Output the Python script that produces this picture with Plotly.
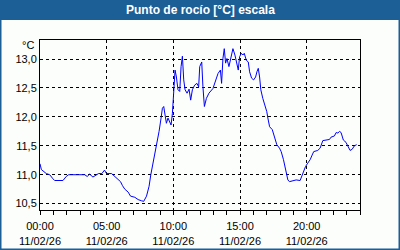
import plotly.graph_objects as go

hours = [0.00, 0.10, 0.47, 0.73, 0.97, 1.10, 1.72, 1.97, 2.15, 3.35, 3.54, 3.72, 3.97, 4.21, 4.39,
         4.64, 4.84, 4.96, 5.01, 5.37, 5.61, 5.86, 6.04, 6.19, 6.36, 6.61, 6.79, 7.11, 7.36, 7.61,
         7.78, 7.99, 8.18, 8.31, 8.48, 8.73, 8.93, 9.08, 9.18, 9.28, 9.38, 9.48, 9.60, 9.73, 9.83,
         9.93, 10.03, 10.13, 10.23, 10.35, 10.48, 10.58, 10.68, 10.78, 10.88, 11.03, 11.18, 11.30,
         11.43, 11.60, 11.77, 11.90, 11.98, 12.13, 12.22, 12.33, 12.48, 12.67, 12.97, 13.17, 13.35,
         13.53, 13.62, 13.72, 13.82, 13.92, 14.02, 14.17, 14.32, 14.47, 14.62, 14.77, 14.87, 14.97,
         15.10, 15.22, 15.32, 15.47, 15.62, 15.72, 15.87, 16.02, 16.17, 16.27, 16.37, 16.47, 16.56,
         16.71, 16.86, 17.01, 17.09, 17.22, 17.42, 17.59, 17.76, 17.96, 18.09, 18.26, 18.41, 18.59,
         18.71, 18.96, 19.21, 19.51, 19.71, 19.91, 20.08, 20.26, 20.41, 20.53, 20.83, 21.01, 21.21,
         21.41, 21.71, 21.83, 22.08, 22.21, 22.34, 22.46, 22.58, 22.75, 22.95, 23.08, 23.26, 23.41,
         23.58, 23.75]
dew_point = [11.19, 11.09, 11.02, 11.00, 10.93, 10.90, 10.90, 10.97, 11.00, 11.00, 10.97, 11.01, 10.96,
             11.00, 11.02, 11.02, 11.08, 11.03, 11.02, 11.02, 10.97, 10.93, 10.88, 10.81, 10.75, 10.70,
             10.63, 10.61, 10.57, 10.55, 10.54, 10.63, 10.80, 11.00, 11.20, 11.49, 11.75, 11.98, 12.15,
             12.18, 11.98, 11.89, 11.98, 11.92, 11.86, 12.06, 12.47, 12.81, 12.69, 12.47, 12.44, 12.87,
             13.05, 12.64, 12.47, 12.41, 12.48, 12.29, 12.47, 12.55, 12.58, 12.52, 12.87, 12.95, 12.52,
             12.18, 12.32, 12.41, 12.49, 12.64, 12.75, 12.81, 12.58, 13.01, 13.18, 12.93, 13.01, 12.87,
             13.04, 13.18, 13.07, 12.93, 12.81, 13.04, 13.10, 13.07, 13.10, 12.98, 12.95, 12.78, 12.67,
             12.64, 12.69, 12.78, 12.84, 12.69, 12.47, 12.32, 12.21, 12.09, 11.98, 11.83, 11.78, 11.66,
             11.52, 11.46, 11.40, 11.26, 11.09, 10.91, 10.88, 10.90, 10.91, 10.90, 11.03, 11.14, 11.20,
             11.26, 11.34, 11.40, 11.42, 11.46, 11.59, 11.60, 11.61, 11.65, 11.67, 11.73, 11.72, 11.75,
             11.73, 11.60, 11.56, 11.50, 11.42, 11.44, 11.50, 11.52]

x_tick_vals = [0, 5, 10, 15, 20]
x_tick_text = ["00:00<br>11/02/26", "05:00<br>11/02/26", "10:00<br>11/02/26",
               "15:00<br>11/02/26", "20:00<br>11/02/26"]
y_tick_vals = [10.5, 11.0, 11.5, 12.0, 12.5, 13.0]
title_text = "Punto de rocío [°C] escala"
unit_text = "°C"

BLUE = "#1c5e96"
BG = "#fcfefc"
FONT = "Liberation Sans"

fig = go.Figure()
fig.add_trace(go.Scatter(x=hours, y=dew_point, mode="lines",
                         line=dict(color="#0000ff", width=1), hoverinfo="skip"))

# paper coordinates of figure edges (plot area 40..360 x 40..210)
px0, px1 = -40 / 320, 360 / 320
py_top, py_bot = 1 + 40 / 170, -40 / 170
py_bar = 1 + 20 / 170

fig.update_layout(
    width=400, height=250,
    margin=dict(l=40, r=40, t=40, b=40, autoexpand=False),
    paper_bgcolor=BG, plot_bgcolor=BG,
    separators=",.",
    showlegend=False,
    font=dict(family=FONT, size=11, color="#000000"),
    xaxis=dict(range=[0, 24], tickvals=x_tick_vals, ticktext=x_tick_text,
               showgrid=True, gridcolor="#000000", gridwidth=1, griddash="3px,3px",
               showline=True, linecolor="#000000", linewidth=1, mirror=True,
               ticks="outside", ticklen=4, tickcolor="#000000", ticklabelstandoff=2,
               automargin=False,
               minor=dict(dtick=1, ticks="outside", ticklen=4, tickcolor="#000000", showgrid=False),
               zeroline=False, fixedrange=True),
    yaxis=dict(range=[10.39, 13.33], tickvals=y_tick_vals, tickformat=".1f",
               showgrid=True, gridcolor="#000000", gridwidth=1, griddash="3px,3px",
               showline=True, linecolor="#000000", linewidth=1, mirror=True,
               ticks="", zeroline=False, fixedrange=True, automargin=False),
    shapes=[
        dict(type="rect", xref="paper", yref="paper", x0=px0, x1=px1, y0=py_bar, y1=py_top,
             fillcolor=BLUE, line=dict(width=0), layer="below"),
        dict(type="rect", xref="paper", yref="paper", x0=px0, x1=px1, y0=py_bot, y1=py_top,
             fillcolor="rgba(0,0,0,0)", line=dict(color=BLUE, width=3)),
    ],
    annotations=[
        dict(text="<b>" + title_text + "</b>", xref="paper", yref="paper",
             x=0.5, y=(py_bar + py_top) / 2, xanchor="center", yanchor="middle",
             showarrow=False, font=dict(family=FONT, size=12, color="#ffffff")),
        dict(text=unit_text, xref="paper", yref="paper", x=-4 / 320, y=1 - 5 / 170,
             xanchor="right", yanchor="middle", showarrow=False,
             font=dict(family=FONT, size=11, color="#000000")),
    ],
)

fig.write_html("out.html")
